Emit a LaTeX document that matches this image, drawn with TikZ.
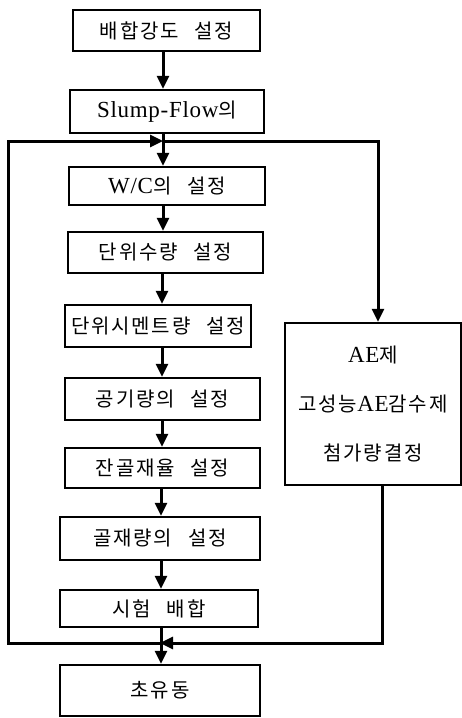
\documentclass[tikz,border=0pt]{standalone}
\usepackage{fontspec}
\setmainfont[LetterSpace=3]{Liberation Serif}
\newfontfamily\kr[LetterSpace=9,WordSpace=2.5,Scale=0.87]{Noto Sans CJK KR}
\usetikzlibrary{arrows.meta}
\begin{document}
\begin{tikzpicture}[x=1pt,y=-1pt,
  box/.style={draw,line width=2.4pt,inner sep=0pt,font=\fontsize{23}{26}\selectfont},
  arr/.style={line width=3pt,-{Triangle[length=13pt,width=12pt]}},
  ln/.style={line width=3pt}]
\useasboundingbox (0,0) rectangle (462,718);
\node[box,minimum width=187pt,minimum height=41pt] (b1) at (166.5,30.5) {\kr 배합강도 설정};
\node[box,minimum width=194pt,minimum height=43pt] (b2) at (167,111.5) {Slump-Flow{\kr 의}};
\node[box,minimum width=196pt,minimum height=38pt] (b3) at (167,186) {W/C{\kr 의 설정}};
\node[box,minimum width=195pt,minimum height=41pt] (b4) at (165.5,252.5) {\kr 단위수량 설정};
\node[box,minimum width=186pt,minimum height=42pt] (b5) at (158,326) {\kr 단위시멘트량 설정};
\node[box,minimum width=195pt,minimum height=42pt] (b6) at (162.5,399) {\kr 공기량의 설정};
\node[box,minimum width=195pt,minimum height=40pt] (b7) at (162.5,468) {\kr 잔골재율 설정};
\node[box,minimum width=200pt,minimum height=43pt] (b8) at (160,538.5) {\kr 골재량의 설정};
\node[box,minimum width=198pt,minimum height=37pt] (b9) at (159,608.5) {\kr 시험 배합};
\node[box,minimum width=200pt,minimum height=51pt] (b10) at (160,690.5) {\raisebox{3pt}{\kr 초유동}};
\node[box,minimum width=176pt,minimum height=162pt,align=center,
  font=\fontsize{23}{49}\selectfont] (R) at (373,404)
  {AE{\kr 제}\\{\kr 고성능}AE{\kr 감수제}\\{\kr 첨가량결정}};
% junctions
\coordinate (jt) at (163,141);
\coordinate (jb) at (163,643);
\coordinate (lt) at (8,141);
\coordinate (lb) at (8,643);
\coordinate (rt) at (378,141);
\coordinate (rb) at (382,643);
% column arrows
\draw[arr] (b1.south -| jt) -- (b2.north -| jt);
\draw[arr] (b2.south -| jt) -- (b3.north -| jt);
\draw[arr] (b3.south -| jt) -- (b4.north -| jt);
\draw[arr] ([xshift=-1pt]b4.south -| jt) -- ([xshift=-1pt]b5.north -| jt);
\draw[arr] ([xshift=-1pt]b5.south -| jt) -- ([xshift=-1pt]b6.north -| jt);
\draw[arr] ([xshift=-1pt]b6.south -| jt) -- ([xshift=-1pt]b7.north -| jt);
\draw[arr] ([xshift=-2pt]b7.south -| jt) -- ([xshift=-2pt]b8.north -| jt);
\draw[arr] ([xshift=-2pt]b8.south -| jt) -- ([xshift=-2pt]b9.north -| jt);
\draw[arr] ([xshift=-2pt]b9.south -| jt) -- ([xshift=-2pt]b10.north -| jt);
% loop back
\draw[arr] ([xshift=-2pt]jb) -- (lb) -- (lt) -- (jt);
% branch to right
\draw[arr] (jt) -- (rt) -- (R.north -| rt);
\draw[arr] (R.south -| rb) -- (rb) -- ([xshift=-3pt]jb);
\end{tikzpicture}
\end{document}
